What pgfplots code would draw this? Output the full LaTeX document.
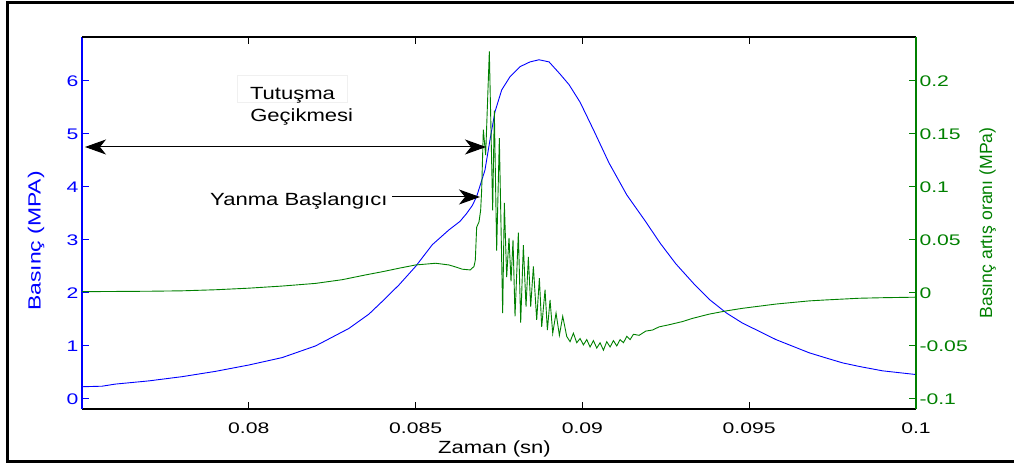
\documentclass[border=0pt]{standalone}
\usepackage{pgfplots}
\pgfplotsset{compat=1.18}
\usepackage{fontspec}
\setmainfont{Liberation Sans}[FakeStretch=1.25]
\newfontfamily\tickfont{Liberation Sans}[FakeStretch=1.38]
\newfontfamily\plainfont{Liberation Sans}
\newfontfamily\leftlabfont{Liberation Sans}[FakeStretch=1.3]
\usetikzlibrary{arrows.meta}
\definecolor{mblue}{rgb}{0,0,1}
\definecolor{mgreen}{rgb}{0,0.5,0}

\pgfplotstableread{
t p
0.0750 0.23
0.0756 0.24
0.0760 0.28
0.0770 0.34
0.0780 0.42
0.0790 0.52
0.0800 0.64
0.0810 0.78
0.0820 1.00
0.0830 1.33
0.0836 1.60
0.0840 1.84
0.0845 2.15
0.0850 2.50
0.0855 2.91
0.0860 3.19
0.08633 3.35
0.08653 3.50
0.08670 3.65
0.08683 3.82
0.08708 4.32
0.08723 4.89
0.08738 5.42
0.08758 5.83
0.08783 6.08
0.08813 6.27
0.08843 6.36
0.08870 6.40
0.08900 6.36
0.08933 6.13
0.08960 5.93
0.08993 5.60
0.09033 5.08
0.09080 4.45
0.09133 3.85
0.09188 3.36
0.09233 2.94
0.09280 2.55
0.09333 2.18
0.09380 1.88
0.09432 1.62
0.09480 1.43
0.09532 1.27
0.09580 1.12
0.09632 0.99
0.09680 0.87
0.09732 0.77
0.09780 0.68
0.09832 0.61
0.09900 0.53
0.10000 0.46
}\pressure

\pgfplotstableread{
t r
0.0750 0.0012
0.0770 0.0016
0.0780 0.0020
0.0790 0.0030
0.0800 0.0045
0.0810 0.0065
0.0820 0.0090
0.0828 0.0125
0.0835 0.0170
0.0840 0.0200
0.0845 0.0233
0.0850 0.0264
0.0856 0.0280
0.0860 0.0264
0.0862 0.0245
0.0864 0.0224
0.08664 0.0217
0.08675 0.0250
0.08679 0.0310
0.08683 0.0620
0.08690 0.0670
0.08695 0.0780
0.08698 0.0970
0.08703 0.1540
0.08710 0.1300
0.08721 0.2280
0.08731 0.0780
0.08736 0.1720
0.08743 0.0400
0.08751 0.1460
0.08761 -0.0190
0.08766 0.0850
0.08773 0.0150
0.08780 0.0520
0.08786 0.0110
0.08792 0.0500
0.08798 -0.0220
0.08808 0.0570
0.08815 -0.0280
0.08823 0.0450
0.08831 -0.0130
0.08838 0.0340
0.08845 -0.0130
0.08853 0.0250
0.08863 -0.0255
0.08871 0.0140
0.08878 -0.0320
0.08888 0.0030
0.08895 -0.0350
0.08903 -0.0066
0.08911 -0.0380
0.08921 -0.0190
0.08931 -0.0400
0.08941 -0.0220
0.08953 -0.0410
0.08963 -0.0460
0.08973 -0.0380
0.08983 -0.0470
0.08993 -0.0430
0.09003 -0.0490
0.09013 -0.0440
0.09023 -0.0510
0.09033 -0.0450
0.09043 -0.0520
0.09053 -0.0470
0.09063 -0.0540
0.09073 -0.0460
0.09083 -0.0510
0.09093 -0.0450
0.09103 -0.0500
0.09113 -0.0440
0.09123 -0.0470
0.09133 -0.0410
0.09143 -0.0440
0.09153 -0.0390
0.09170 -0.0400
0.09190 -0.0360
0.09210 -0.0350
0.09230 -0.0320
0.09260 -0.0300
0.09300 -0.0270
0.09330 -0.0240
0.09380 -0.0200
0.09430 -0.0170
0.09480 -0.0145
0.09530 -0.0125
0.09580 -0.0105
0.09630 -0.0090
0.09680 -0.0075
0.09730 -0.0066
0.09780 -0.0058
0.09830 -0.0050
0.09900 -0.0045
0.10000 -0.0040
}\rate

\begin{document}
\begin{tikzpicture}[x=1bp,y=1bp]
\useasboundingbox (0,0) rectangle (1014,464);
\draw[line width=3bp] (1014,461) -- (7.5,461) -- (7.5,2.5) -- (1014,2.5);

\begin{axis}[
  at={(82bp,55bp)}, anchor=south west, scale only axis,
  width=834bp, height=372bp,
  xmin=0.075, xmax=0.1, ymin=-0.19, ymax=6.83,
  axis x line*=bottom, axis y line*=left,
  tick align=inside, major tick length=7bp,
  xtick={0.08,0.085,0.09,0.095,0.1},
  xticklabels={0.08,0.085,0.09,0.095,0.1},
  ytick={0,1,2,3,4,5,6},
  yticklabels={0,1,2,3,4,5,6},
  x axis line style={black, line width=1.2bp},
  y axis line style={mblue, line width=1.2bp},
  xtick style={black, line width=1bp},
  ytick style={mblue, line width=1bp},
  yticklabel style={text=mblue, font=\tickfont\fontsize{15.4}{18}\selectfont},
  xticklabel style={text=black, font=\tickfont\fontsize{15.4}{18}\selectfont, anchor=base, yshift=-25bp},
]
\addplot[mblue, line width=0.9bp, no markers] table[x=t, y=p] {\pressure};
\draw[mblue, line width=1.2bp] ([xshift=1.3bp]rel axis cs:1,0) -- ([xshift=1.3bp]rel axis cs:1,1);
\end{axis}

\begin{axis}[
  at={(82bp,55bp)}, anchor=south west, scale only axis,
  width=834bp, height=372bp,
  xmin=0.075, xmax=0.1, ymin=-0.1095, ymax=0.2415,
  axis x line*=top, axis y line*=right,
  tick align=inside, major tick length=7bp,
  xtick={0.08,0.085,0.09,0.095,0.1},
  xticklabels={},
  ytick={-0.1,-0.05,0,0.05,0.1,0.15,0.2},
  yticklabels={-0.1,-0.05,0,0.05,0.1,0.15,0.2},
  x axis line style={black, line width=1.2bp},
  y axis line style={mgreen, line width=1.2bp},
  xtick style={black, line width=1bp},
  ytick style={mgreen, line width=1bp},
  yticklabel style={text=mgreen, font=\tickfont\fontsize{15.4}{18}\selectfont},
]
\addplot[mgreen, line width=0.9bp, no markers] table[x=t, y=r] {\rate};
\end{axis}

% axis labels
\node[rotate=90, text=mblue, font=\leftlabfont\fontsize{17.7}{20}\selectfont] at (36,223) {Basınç (MPA)};
\node[rotate=90, text=mgreen, font=\plainfont\fontsize{17.7}{20}\selectfont] at (987.5,241) {Basınç artış oranı (MPa)};
\node[anchor=base, font=\fontsize{17.7}{20}\selectfont] at (494.5,10) {Zaman (sn)};

% annotations
\draw[gray!12] (237,362) rectangle (347,389);
\node[anchor=base, font=\fontsize{17.7}{20}\selectfont] at (292.5,364.7) {Tutuşma};
\node[anchor=base, font=\fontsize{17.7}{20}\selectfont] at (301.7,342.3) {Geçikmesi};
\draw[line width=1bp, {Stealth[length=21bp,width=15bp,inset=6bp]}-{Stealth[length=21bp,width=15bp,inset=6bp]}] (85,317) -- (486,317);
\node[anchor=base west, inner sep=0pt, font=\fontsize{17.7}{20}\selectfont] at (210,258.3) {Yanma Başlangıcı};
\draw[line width=1bp, -{Stealth[length=21bp,width=15bp,inset=6bp]}] (392,267) -- (480,267);
\end{tikzpicture}
\end{document}
